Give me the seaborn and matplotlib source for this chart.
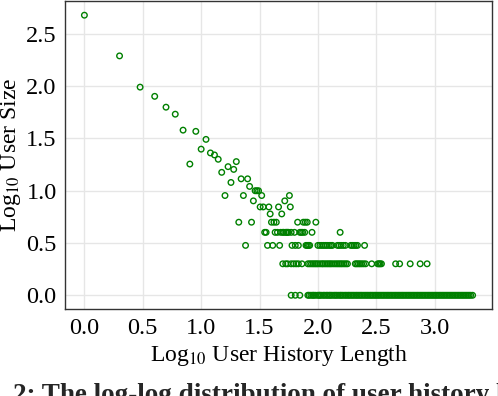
import numpy as np
import pandas as pd
import matplotlib
matplotlib.use("Agg")
import matplotlib.pyplot as plt
import seaborn as sns

# history lengths that have more than five users
head_len = [1, 2, 3, 4, 5, 6, 7, 8, 9, 10, 11, 12, 13, 14, 15, 16, 17, 18, 19, 20,
            22, 23, 25, 26, 28, 29, 30, 31, 32, 33, 34, 38, 39, 46, 49, 52, 57, 58]
head_size = [478, 195, 98, 80, 63, 54, 38, 18, 37, 25, 31, 23, 22, 20, 15, 9, 17, 12, 16, 19,
             13, 9, 13, 11, 8, 10, 10, 10, 7, 9, 7, 7, 6, 7, 6, 8, 9, 7]

# history lengths shared by 5, 4, 3, 2 and 1 users
len_size5 = [21, 27, 40, 42, 44, 67, 75, 78, 81, 96]
len_size4 = [35, 36, 43, 45, 48, 50, 51, 53, 54, 55, 56, 59, 63, 70, 72, 74, 77, 89, 155]
len_size3 = [24, 37, 41, 47, 60, 64, 68, 79, 81, 83, 85, 100, 104, 108, 112, 116, 120,
             125, 129, 133, 147, 152, 158, 165, 172, 191, 197, 204, 211, 218, 251]
len_size2 = [50, 53, 55, 59, 62, 65, 68, 73, 82, 85, 88, 91, 94, 97, 100, 104, 108, 111,
             115, 119, 123, 127, 131, 136, 141, 146, 151, 156, 161, 167, 173, 179, 209,
             215, 222, 229, 237, 246, 256, 289, 325, 333, 341, 350, 463, 501, 617, 751, 861]
len_size1 = [59, 64, 70, 82, 84, 87, 90, 92, 95, 99, 102, 104, 107, 111, 114, 118, 121,
             125, 128, 132, 137, 141, 145, 150, 155, 159, 164, 170, 175, 181, 186, 192,
             198, 204, 211, 217, 224, 231, 238, 246, 254, 262, 270, 279, 287, 296, 306,
             315, 325, 335, 346, 357, 368, 380, 392, 404, 417, 430, 444, 458, 472, 487,
             502, 518, 534, 551, 569, 587, 605, 624, 644, 664, 685, 707, 729, 752, 776,
             800, 826, 852, 879, 906, 935, 964, 995, 1026, 1058, 1092, 1126, 1162, 1198,
             1236, 1275, 1316, 1357, 1400, 1444, 1490, 1537, 1586, 1636, 1688, 1741,
             1796, 1853, 1911, 1972, 2034, 2113]

caption = "2: The log-log distribution of user history length"

# build one table: history length -> number of users
lengths = list(head_len)
sizes = list(head_size)
for n_users, lens in [(5, len_size5), (4, len_size4), (3, len_size3), (2, len_size2), (1, len_size1)]:
    lengths += lens
    sizes += [n_users] * len(lens)

df = pd.DataFrame({"length": lengths, "size": sizes})
df["log_len"] = np.log10(df["length"])
df["log_size"] = np.log10(df["size"])

sns.set_theme(style="whitegrid")
plt.rcParams["font.family"] = ["Liberation Serif", "DejaVu Serif"]
plt.rcParams["mathtext.fontset"] = "stix"

fig = plt.figure(figsize=(4.98, 3.96), dpi=100)
ax = fig.add_axes([0.1305, 0.219, 0.8575, 0.778])

sns.scatterplot(data=df, x="log_len", y="log_size", ax=ax,
                marker="o", s=16, facecolors="none", edgecolor="green",
                linewidth=1.0, legend=False)

ax.set_xticks([0.0, 0.5, 1.0, 1.5, 2.0, 2.5, 3.0])
ax.set_yticks([0.0, 0.5, 1.0, 1.5, 2.0, 2.5])
ax.tick_params(axis="both", length=0, pad=6, labelsize=17.5, colors="black")
ax.grid(True, color="#e6e6e6", linewidth=1.0)
for sp in ax.spines.values():
    sp.set_color("#333333")
    sp.set_linewidth(1.0)

ax.set_xlabel("Log$_{10}$ User History Length", fontsize=17, color="black", labelpad=3)
ax.set_ylabel("Log$_{10}$ User Size", fontsize=17, color="black")
ax.yaxis.set_label_coords(-0.098, 0.5)

fig.text(0.027, -0.015, caption, fontsize=19.5, fontweight="bold", va="baseline", ha="left")

fig.savefig("out.png", dpi=100)
